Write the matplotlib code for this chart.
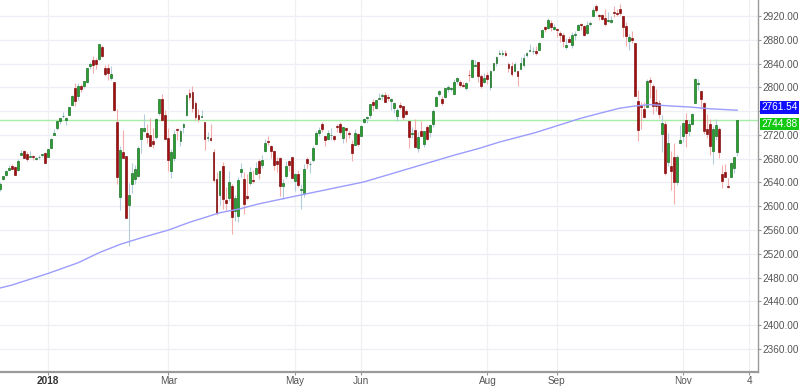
import numpy as np
import pandas as pd
import matplotlib
matplotlib.use("Agg")
import matplotlib.pyplot as plt
from matplotlib.transforms import blended_transform_factory

plt.rcParams["font.family"] = ["Liberation Sans", "DejaVu Sans"]

# ---------------- data (daily OHLC, 7 Dec 2017 .. 28 Nov 2018) ----------------
opens = [
    # Dec 2017
    2628.4, 2646.2, 2652.2, 2661.7, 2667.6, 2665.9, 2660.6, 2685.9, 2692.7, 2688.2, 2683.0, 2684.2, 2679.1, 2682.1, 2686.1, 2689.2,
    # Jan
    2683.7, 2697.9, 2719.3, 2731.3, 2742.7, 2751.2, 2745.6, 2753.0, 2770.2, 2799.0, 2785.0, 2802.4, 2802.6, 2809.2, 2835.1, 2845.4, 2846.2, 2847.5, 2867.2, 2832.7, 2832.4,
    # Feb
    2816.5, 2808.9, 2741.1, 2614.8, 2691.0, 2685.0, 2601.8, 2636.8, 2646.3, 2651.2, 2713.5, 2727.1, 2723.0, 2720.5, 2710.4, 2715.8, 2757.4, 2780.5, 2753.8,
    # Mar
    2715.2, 2658.9, 2681.1, 2730.2, 2710.2, 2732.8, 2752.9, 2790.5, 2792.3, 2774.1, 2754.3, 2750.6, 2741.4, 2715.1, 2715.0, 2691.4, 2646.7, 2619.4, 2667.6, 2611.3, 2614.4,
    # Apr
    2633.5, 2592.2, 2584.0, 2657.4, 2645.8, 2617.2, 2638.4, 2643.7, 2653.8, 2676.9, 2670.1, 2692.7, 2710.1, 2701.2, 2692.6, 2675.4, 2680.8, 2634.9, 2651.7, 2675.5, 2682.5,
    # May
    2643.0, 2654.2, 2628.1, 2621.5, 2680.3, 2670.3, 2678.1, 2705.0, 2722.7, 2738.5, 2718.6, 2712.6, 2719.7, 2717.4, 2735.4, 2738.3, 2714.0, 2730.9, 2723.6, 2705.1, 2702.4, 2721.0,
    # Jun
    2718.7, 2741.7, 2748.5, 2753.3, 2774.8, 2765.8, 2780.2, 2785.6, 2787.9, 2783.2, 2777.8, 2765.8, 2752.0, 2769.7, 2769.3, 2760.8, 2742.9, 2722.1, 2728.5, 2698.7, 2727.1,
    # Jul
    2705.0, 2733.3, 2724.2, 2737.7, 2768.5, 2788.6, 2779.8, 2783.1, 2796.9, 2797.4, 2789.3, 2811.4, 2809.4, 2804.6, 2799.2, 2820.7, 2817.7, 2835.5, 2842.4, 2819.0, 2809.7,
    # Aug
    2821.2, 2800.5, 2829.6, 2840.3, 2855.9, 2856.8, 2857.2, 2838.9, 2835.5, 2827.9, 2828.0, 2831.4, 2838.3, 2853.9, 2861.5, 2861.0, 2860.3, 2862.4, 2884.7, 2901.5, 2900.6, 2908.9, 2898.4,
    # Sep
    2897.0, 2891.6, 2888.6, 2868.3, 2881.4, 2871.6, 2888.3, 2896.9, 2906.4, 2903.8, 2890.7, 2906.6, 2919.7, 2936.8, 2921.8, 2921.8, 2917.0, 2911.7, 2910.0,
    # Oct
    2926.3, 2923.8, 2931.7, 2919.4, 2902.5, 2877.5, 2882.5, 2873.9, 2776.9, 2770.5, 2763.8, 2767.1, 2811.7, 2802.0, 2775.7, 2773.9, 2721.0, 2737.9, 2674.9, 2667.9, 2682.7, 2640.7, 2705.6,
    # Nov
    2717.6, 2745.5, 2726.4, 2738.4, 2774.1, 2806.4, 2794.1, 2773.9, 2730.1, 2737.9, 2693.5, 2718.5, 2730.7, 2654.6, 2657.7, 2633.4, 2650.0, 2663.8, 2691.5,
]
highs = [
    2641.0, 2651.7, 2660.3, 2669.7, 2671.9, 2668.1, 2679.6, 2695.0, 2694.4, 2691.0, 2692.6, 2685.4, 2682.7, 2685.6, 2687.7, 2692.1,
    2695.9, 2714.4, 2729.3, 2743.5, 2748.5, 2759.1, 2750.8, 2767.6, 2787.9, 2807.5, 2807.0, 2805.8, 2810.3, 2833.0, 2842.2, 2853.0, 2848.6, 2872.9, 2870.6, 2837.8, 2839.3,
    2836.0, 2808.9, 2763.4, 2701.0, 2727.7, 2685.3, 2638.7, 2672.6, 2668.8, 2702.1, 2731.5, 2754.4, 2737.6, 2747.8, 2731.3, 2747.8, 2780.6, 2789.2, 2761.5,
    2730.9, 2696.3, 2728.1, 2732.1, 2730.6, 2740.5, 2786.6, 2797.0, 2801.9, 2777.1, 2763.0, 2761.9, 2741.4, 2724.2, 2739.1, 2695.7, 2657.7, 2661.4, 2674.8, 2632.7, 2659.1,
    2638.3, 2619.1, 2649.9, 2672.1, 2656.9, 2653.6, 2665.5, 2661.4, 2674.7, 2680.3, 2686.5, 2713.3, 2717.5, 2702.8, 2693.9, 2682.9, 2683.6, 2645.3, 2676.5, 2677.4, 2682.9,
    2655.3, 2660.9, 2637.1, 2670.9, 2683.4, 2676.3, 2701.3, 2726.1, 2732.9, 2742.1, 2718.6, 2727.8, 2732.0, 2719.5, 2739.2, 2742.2, 2733.3, 2732.0, 2727.4, 2710.7, 2729.3, 2722.5,
    2736.9, 2749.2, 2752.6, 2772.4, 2779.9, 2779.4, 2790.2, 2789.8, 2791.5, 2789.1, 2782.8, 2775.0, 2765.1, 2774.9, 2769.3, 2764.2, 2742.9, 2732.9, 2746.1, 2724.3, 2743.3,
    2727.3, 2736.6, 2737.8, 2764.4, 2784.7, 2795.6, 2785.9, 2799.2, 2804.5, 2801.2, 2814.2, 2816.8, 2812.1, 2809.7, 2808.6, 2830.0, 2848.0, 2845.6, 2843.2, 2821.7, 2824.5,
    2825.8, 2829.9, 2840.4, 2853.3, 2863.4, 2862.4, 2862.5, 2842.2, 2843.4, 2843.1, 2828.0, 2850.5, 2855.6, 2859.8, 2873.2, 2867.5, 2868.8, 2876.2, 2898.3, 2903.8, 2916.5, 2912.5, 2906.3,
    2900.2, 2894.2, 2892.1, 2883.8, 2886.9, 2892.5, 2894.7, 2906.8, 2908.3, 2904.7, 2911.2, 2912.4, 2934.8, 2940.9, 2923.8, 2924.0, 2931.2, 2927.2, 2920.5,
    2937.1, 2931.4, 2939.9, 2919.8, 2909.6, 2889.5, 2894.8, 2874.0, 2795.1, 2775.8, 2776.0, 2813.5, 2816.9, 2806.0, 2797.8, 2778.9, 2753.6, 2742.6, 2722.7, 2692.4, 2706.9, 2685.4, 2736.7,
    2741.7, 2756.6, 2744.3, 2756.8, 2815.2, 2814.8, 2794.1, 2776.0, 2754.6, 2746.8, 2735.4, 2746.8, 2733.2, 2669.4, 2670.7, 2647.6, 2674.4, 2682.5, 2745.0,
]
lows = [
    2626.5, 2644.1, 2651.5, 2660.6, 2662.9, 2652.0, 2659.1, 2685.9, 2680.7, 2676.1, 2682.4, 2678.1, 2678.0, 2678.9, 2682.7, 2673.6,
    2682.4, 2697.8, 2719.1, 2727.9, 2737.6, 2747.9, 2736.1, 2752.8, 2769.6, 2768.6, 2778.4, 2792.6, 2798.1, 2808.1, 2830.6, 2824.8, 2830.9, 2846.2, 2851.5, 2818.3, 2813.0,
    2812.7, 2760.0, 2638.2, 2593.1, 2681.3, 2580.6, 2532.7, 2622.5, 2637.1, 2648.9, 2689.8, 2725.1, 2706.8, 2701.3, 2697.8, 2713.7, 2753.8, 2744.2, 2713.5,
    2659.7, 2647.3, 2675.8, 2711.3, 2701.7, 2722.7, 2751.5, 2779.3, 2758.7, 2744.4, 2741.5, 2750.0, 2694.6, 2710.1, 2709.8, 2641.6, 2585.9, 2601.8, 2596.1, 2593.1, 2609.7,
    2553.8, 2575.5, 2573.6, 2649.6, 2586.3, 2610.8, 2635.8, 2639.3, 2653.8, 2645.1, 2665.2, 2692.1, 2703.6, 2681.9, 2660.6, 2658.0, 2617.3, 2612.7, 2647.2, 2659.0, 2648.0,
    2625.4, 2631.7, 2594.6, 2615.3, 2664.7, 2655.2, 2674.1, 2704.5, 2717.5, 2725.5, 2701.9, 2712.2, 2711.4, 2709.2, 2725.7, 2721.9, 2707.1, 2707.4, 2715.0, 2676.8, 2702.4, 2700.7,
    2718.7, 2740.5, 2739.5, 2748.5, 2760.2, 2763.6, 2780.2, 2778.8, 2774.7, 2776.5, 2761.7, 2757.1, 2743.2, 2763.9, 2744.4, 2752.7, 2698.7, 2715.6, 2699.4, 2692.0, 2718.0,
    2699.0, 2711.2, 2716.0, 2733.5, 2768.5, 2786.2, 2770.8, 2781.5, 2791.7, 2793.4, 2789.2, 2805.9, 2799.8, 2800.0, 2795.1, 2811.1, 2817.7, 2835.3, 2808.3, 2798.1, 2808.1,
    2805.9, 2796.3, 2827.4, 2836.0, 2855.9, 2853.1, 2852.0, 2825.8, 2819.9, 2826.6, 2802.5, 2831.4, 2833.7, 2850.6, 2861.3, 2856.1, 2854.0, 2862.4, 2884.7, 2893.5, 2898.4, 2895.2, 2895.8,
    2885.1, 2876.9, 2867.3, 2864.1, 2875.9, 2866.8, 2879.2, 2896.4, 2895.8, 2886.2, 2890.4, 2903.8, 2919.7, 2927.1, 2912.6, 2913.7, 2903.3, 2909.3, 2907.5,
    2917.9, 2919.4, 2921.4, 2883.9, 2869.3, 2862.1, 2874.3, 2784.9, 2710.5, 2729.4, 2749.0, 2766.9, 2781.8, 2755.2, 2760.3, 2749.2, 2691.4, 2651.9, 2667.8, 2628.2, 2603.5, 2635.3, 2705.6,
    2708.9, 2700.4, 2717.9, 2737.1, 2774.1, 2795.0, 2764.2, 2722.0, 2715.0, 2685.8, 2670.8, 2712.2, 2681.1, 2631.5, 2649.8, 2631.1, 2650.0, 2655.9, 2684.4,
]
closes = [
    2637.0, 2651.5, 2660.0, 2664.1, 2662.9, 2652.0, 2675.8, 2690.2, 2681.5, 2679.3, 2684.6, 2683.3, 2680.5, 2682.6, 2687.5, 2673.6,
    2695.8, 2713.1, 2724.0, 2743.2, 2747.7, 2751.3, 2748.2, 2767.6, 2786.2, 2776.4, 2802.6, 2798.0, 2810.3, 2833.0, 2839.1, 2837.5, 2839.3, 2872.9, 2853.5, 2822.4, 2823.8,
    2822.0, 2762.1, 2648.9, 2695.1, 2681.7, 2581.0, 2619.6, 2656.0, 2662.9, 2698.6, 2731.2, 2732.2, 2716.3, 2701.3, 2704.0, 2747.3, 2779.6, 2744.3, 2713.8,
    2677.7, 2691.3, 2720.9, 2728.1, 2726.8, 2739.0, 2786.6, 2783.0, 2765.3, 2749.5, 2747.3, 2752.0, 2712.9, 2716.9, 2711.9, 2643.7, 2588.3, 2658.6, 2612.6, 2605.0, 2640.9,
    2581.9, 2614.5, 2644.7, 2662.8, 2604.5, 2613.2, 2656.9, 2642.2, 2664.0, 2656.3, 2677.8, 2706.4, 2708.6, 2693.1, 2670.1, 2670.3, 2634.6, 2639.4, 2666.9, 2669.9, 2648.1,
    2654.8, 2635.7, 2629.7, 2663.4, 2672.6, 2671.9, 2697.8, 2723.1, 2727.7, 2730.1, 2711.5, 2722.5, 2720.1, 2713.0, 2733.0, 2724.4, 2733.3, 2727.8, 2721.3, 2689.9, 2724.0, 2705.3,
    2734.6, 2746.9, 2748.8, 2772.4, 2770.4, 2779.0, 2782.0, 2786.9, 2775.6, 2782.5, 2779.7, 2773.8, 2762.6, 2767.3, 2749.8, 2754.9, 2717.1, 2723.1, 2699.6, 2716.3, 2718.4,
    2726.7, 2713.2, 2736.6, 2759.8, 2784.2, 2793.8, 2774.0, 2798.3, 2801.3, 2798.4, 2809.6, 2815.6, 2804.5, 2801.8, 2807.0, 2820.4, 2846.1, 2837.4, 2818.8, 2802.6, 2816.3,
    2813.4, 2827.2, 2840.4, 2850.4, 2858.5, 2857.7, 2853.6, 2833.3, 2821.9, 2840.0, 2818.4, 2840.7, 2850.1, 2857.1, 2863.0, 2861.8, 2857.0, 2874.7, 2896.7, 2897.5, 2914.0, 2901.1, 2901.5,
    2896.7, 2888.6, 2878.1, 2871.7, 2877.1, 2887.9, 2888.9, 2904.2, 2905.0, 2888.8, 2904.3, 2908.0, 2930.8, 2929.7, 2919.4, 2915.6, 2906.0, 2914.0, 2914.0,
    2924.6, 2923.4, 2925.5, 2901.6, 2885.6, 2884.4, 2880.3, 2785.7, 2728.4, 2767.1, 2750.8, 2809.9, 2809.2, 2768.8, 2767.8, 2755.9, 2740.7, 2656.1, 2705.6, 2658.7, 2641.3, 2682.6, 2711.7,
    2740.4, 2723.1, 2738.3, 2755.5, 2813.9, 2806.8, 2781.0, 2726.2, 2722.2, 2701.6, 2730.2, 2736.3, 2690.7, 2641.9, 2649.9, 2632.6, 2673.5, 2682.2, 2744.88,
]

# 200-day moving average at sample dates
ma_dates = ["2017-12-07", "2017-12-13", "2018-01-02", "2018-01-17", "2018-01-26", "2018-02-06",
            "2018-02-15", "2018-03-01", "2018-03-12", "2018-03-26", "2018-04-05", "2018-04-13",
            "2018-05-03", "2018-06-04", "2018-06-28", "2018-07-17", "2018-07-27", "2018-08-07",
            "2018-08-23", "2018-09-14", "2018-09-24", "2018-10-03", "2018-10-10", "2018-10-17",
            "2018-10-25", "2018-11-05", "2018-11-14", "2018-11-28"]
ma_values = [2462.5, 2467.5, 2487.0, 2505.0, 2522.0, 2536.0,
             2547.0, 2560.0, 2573.0, 2589.0, 2596.0, 2604.0,
             2619.0, 2641.0, 2668.0, 2686.0, 2697.0, 2708.0,
             2724.0, 2748.0, 2756.0, 2765.0, 2768.6, 2771.0,
             2769.0, 2767.0, 2764.0, 2761.54]

last_price = 2744.88
last_ma = 2761.54

tick_dates = ["2018-01-02", "2018-03-01", "2018-05-01", "2018-06-01",
              "2018-08-01", "2018-09-04", "2018-11-01", "2018-12-04"]
tick_labels = ["2018", "Mar", "May", "Jun", "Aug", "Sep", "Nov", "4"]
price_ticks = list(range(2360, 2921, 40))

holidays = ["2017-12-25", "2018-01-01", "2018-01-15", "2018-02-19", "2018-03-30",
            "2018-05-28", "2018-07-04", "2018-09-03", "2018-11-22"]

# ---------------- trading-day axis ----------------
cal = pd.bdate_range("2017-12-07", "2018-12-04")
cal = cal[~cal.isin(pd.to_datetime(holidays))]
pos_of = {d: i for i, d in enumerate(cal)}

o = np.array(opens); h = np.array(highs); l = np.array(lows); c = np.array(closes)
x = np.arange(len(c))
up = c >= o

fig = plt.figure(figsize=(8.0, 3.87), dpi=100)
ax = fig.add_axes([0.0, 15 / 387, 758 / 800, 372 / 387])

# grid
for p in price_ticks:
    ax.axhline(p, color="#eeeef6", lw=0.9, zorder=0)
tick_pos = [pos_of[pd.Timestamp(d)] for d in tick_dates]
for tp in tick_pos:
    ax.axvline(tp, color="#eef0f4", lw=0.9, zorder=0)

# wicks
ax.vlines(x[up], l[up], h[up], color="#b3ccdc", lw=0.8, zorder=2)
ax.vlines(x[~up], l[~up], h[~up], color="#f4adad", lw=0.8, zorder=2)

# bodies
body = np.maximum(np.abs(c - o), 0.8)
bottom = np.minimum(o, c)
ax.bar(x[up], body[up], bottom=bottom[up], width=0.62, color="#27a02f",
       edgecolor="#11661a", linewidth=0.45, zorder=3)
ax.bar(x[~up], body[~up], bottom=bottom[~up], width=0.62, color="#a30e0e",
       edgecolor="#760808", linewidth=0.45, zorder=3)

# moving average
ma_x = [pos_of[pd.Timestamp(d)] for d in ma_dates]
ax.plot(ma_x, ma_values, color="#9c9cff", lw=1.0, zorder=4)

# last-price line
ax.axhline(last_price, color="#a6eea6", lw=1.0, zorder=1)

ax.set_xlim(0.05, 251.9)
ax.set_ylim(2321.3, 2946.9)

# axes styling
for s in ["top", "left"]:
    ax.spines[s].set_visible(False)
ax.spines["right"].set_color("#9a9a9a")
ax.spines["right"].set_linewidth(1.0)
ax.spines["bottom"].set_color("#9a9a9a")
ax.spines["bottom"].set_linewidth(1.6)

ax.yaxis.tick_right()
ax.set_yticks(price_ticks)
# the 2760 label sits under the moving-average tag, as in the reference
ax.set_yticklabels(["" if p == 2760 else f"{p:.2f}" for p in price_ticks])
ax.tick_params(axis="y", which="both", direction="out", length=2, width=0.8,
               color="#9a9a9a", labelcolor="#555555", labelsize=7.2, pad=1)

ax.set_xticks(tick_pos)
ax.set_xticklabels(tick_labels)
ax.tick_params(axis="x", direction="out", length=2.2, width=0.8, color="#9a9a9a",
               labelcolor="#555555", labelsize=7.2, pad=0.8)
for lab in ax.get_xticklabels():
    if lab.get_text() == "2018":
        lab.set_fontweight("bold")
        lab.set_color("#333333")

# price tags on the right axis
tr = blended_transform_factory(ax.transAxes, ax.transData)
ax.annotate(f"{last_ma:.2f}", xy=(1.0, last_ma), xycoords=tr,
            xytext=(2.4, 2.0), textcoords="offset points", va="center", ha="left",
            fontsize=7.2, color="white", annotation_clip=False,
            bbox=dict(boxstyle="square,pad=0.12", fc="#1010ff", ec="none"))
ax.annotate(f"{last_price:.2f}", xy=(1.0, last_price), xycoords=tr,
            xytext=(2.4, -2.6), textcoords="offset points", va="center", ha="left",
            fontsize=7.2, color="white", annotation_clip=False,
            bbox=dict(boxstyle="square,pad=0.12", fc="#12c812", ec="none"))

fig.savefig("out.png", dpi=100)
